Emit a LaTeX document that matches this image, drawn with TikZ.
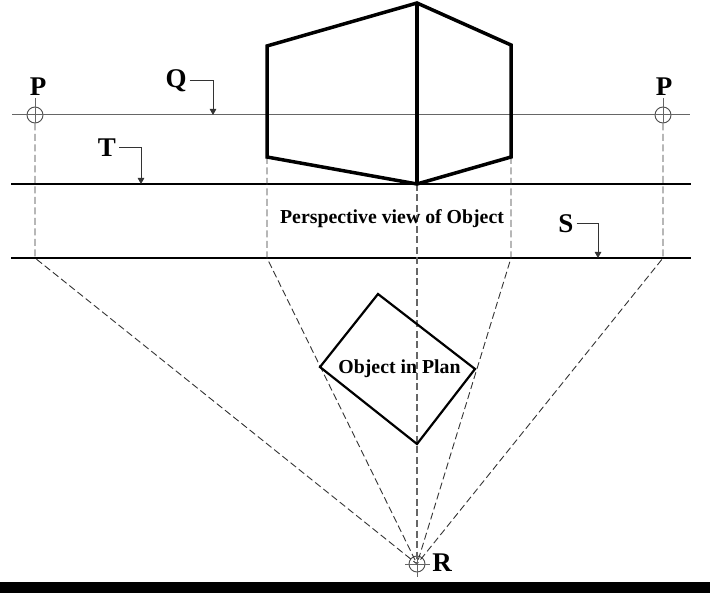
\documentclass[tikz,border=0pt]{standalone}
\usepackage{fontspec}
\setmainfont{Liberation Serif}
\usetikzlibrary{arrows.meta}
\usetikzlibrary{calc}
\tikzstyle{arrow} = [line width=1pt,draw=black!80,-{Triangle[length=6pt,width=6.5pt]}]
\tikzstyle{project} = [line width=0.9pt,draw=black!80,dash pattern=on 7pt off 3.5pt]
\tikzstyle{axisline} = [line width=1.4pt,draw=black!60,dash pattern=on 7pt off 3.5pt]
\tikzstyle{thinline} = [line width=1pt,draw=black!60]
\tikzstyle{ground} = [line width=2.4pt,draw=black]
\tikzstyle{object} = [line width=3.5pt,draw=black,line join=miter]
\tikzstyle{plan} = [line width=2.2pt,draw=black,line join=miter]
\tikzstyle{station} = [circle,draw=black!70,line width=0.9pt,minimum size=16pt,inner sep=0pt]
\tikzstyle{letter} = [font=\bfseries\fontsize{27}{27}\selectfont,inner sep=0pt]
\tikzstyle{caption} = [font=\bfseries\fontsize{19.8}{20}\selectfont,inner sep=0pt]
\begin{document}
\begin{tikzpicture}[x=1pt,y=-1pt]
\useasboundingbox (0,0) rectangle (710,593);
\fill[black] (0,582) rectangle (710,593);
%----------------------------------------------------------------------------
% Placement of points
\coordinate (lineQleft) at (12,115);
\coordinate (lineQright) at (690,115);
\coordinate (lineTleft) at (11,184);
\coordinate (lineTright) at (691,184);
\coordinate (lineSleft) at (11,258);
\coordinate (lineSright) at (691,258);
\coordinate (objTop) at (417,3);
\coordinate (objBottom) at (417,184);
\coordinate (objLeftTop) at (267,46);
\coordinate (objLeftBot) at (267,157);
\coordinate (objRightTop) at (511,45);
\coordinate (objRightBot) at (511,157);
\coordinate (planTop) at (378,294);
\coordinate (planRight) at (475,369);
\coordinate (planBottom) at (417,444);
\coordinate (planLeft) at (320,367);
\coordinate (groundP1) at (35,258);
\coordinate (groundL) at (267,258);
\coordinate (groundR) at (511,258);
\coordinate (groundP2) at (663,258);
\coordinate (pTop1) at (35,98);
\coordinate (pTop2) at (663,98);
\coordinate (rLeft) at (405,564);
\coordinate (rRight) at (430,564);
\coordinate (rBottom) at (417,577);
\coordinate (qTip) at (213,115);
\coordinate (tTip) at (141,184);
\coordinate (sTip) at (598,258);
%----------------------------------------------------------------------------
% Nodes
\node (stationP1) [station] at (35,115) {};
\node (stationP2) [station] at (663,115) {};
\node (stationR) [station] at (417,564) {};
\node (labelP1) [letter] at (38,87) {P};
\node (labelP2) [letter] at (664,87) {P};
\node (labelQ) [letter] at (176,81) {Q};
\node (labelT) [letter] at (107,148) {T};
\node (labelS) [letter] at (566,224) {S};
\node (labelR) [letter] at (442,563) {R};
%----------------------------------------------------------------------------
% Lines
\draw [thinline] (lineQleft) -- (lineQright);
\draw [ground] (lineTleft) -- (lineTright);
\draw [ground] (lineSleft) -- (lineSright);
\draw [thinline] (pTop1) -- (stationP1.south);
\draw [thinline] (pTop2) -- (stationP2.south);
\draw [thinline] (rLeft) -- (rRight);
\draw [thinline] (stationR.north) -- (rBottom);
%----------------------------------------------------------------------------
% Projection lines
\draw [project] (stationP1.south) -- (groundP1) -- (stationR.center);
\draw [project] (stationP2.south) -- (groundP2) -- (stationR.center);
\draw [project] (objLeftBot) -- (groundL) -- (stationR.center);
\draw [project] (objRightBot) -- (groundR) -- (stationR.center);
\draw [axisline] (objBottom) -- (stationR.center);
%----------------------------------------------------------------------------
% Object
\draw [object] (objBottom) -- (objLeftBot) -- (objLeftTop) -- (objTop) -- (objRightTop) -- (objRightBot) -- cycle;
\draw [object] (objTop) -- (objBottom);
\draw [plan] (planTop) -- (planRight) -- (planBottom) -- (planLeft) -- cycle;
\node (viewText) [caption] at (392,219) {Perspective view of Object};
\node (planText) [caption] at (399.5,368.5) {Object in Plan};
%----------------------------------------------------------------------------
% Arrows
\draw [arrow] (labelQ.east) ++(3,0) -| (qTip);
\draw [arrow] (labelT.east) ++(3,0) -| (tTip);
\draw [arrow] (labelS.east) ++(3,0) -| (sTip);
\end{tikzpicture}
\end{document}
